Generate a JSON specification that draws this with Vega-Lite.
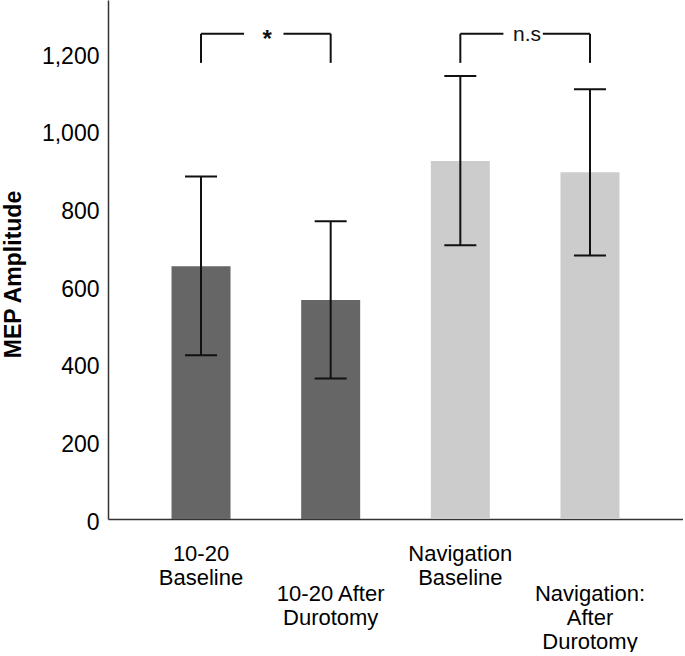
{
  "$schema": "https://vega.github.io/schema/vega-lite/v6.json",
  "width": 575,
  "height": 519,
  "padding": {"left": 2, "top": 0, "right": 0, "bottom": 0},
  "autosize": {"type": "pad"},
  "background": "white",
  "config": {"view": {"stroke": null}, "font": "Liberation Sans"},
  "datasets": {
    "bars": [
      {"condition": "10-20 Baseline", "method": "10-20", "mean": 651, "lo": 422, "hi": 882},
      {"condition": "10-20 After Durotomy", "method": "10-20", "mean": 564, "lo": 362, "hi": 767},
      {"condition": "Navigation Baseline", "method": "Navigation", "mean": 922, "lo": 705, "hi": 1141},
      {"condition": "Navigation: After Durotomy", "method": "Navigation", "mean": 893, "lo": 679, "hi": 1107}
    ],
    "brackets": [
      {"left": "10-20 Baseline", "right": "10-20 After Durotomy", "label": "*", "top": 1250, "bottom": 1175},
      {"left": "Navigation Baseline", "right": "Navigation: After Durotomy", "label": "n.s", "top": 1250, "bottom": 1175}
    ]
  },
  "encoding": {
    "y": {
      "type": "quantitative",
      "scale": {"domain": [0, 1337], "nice": false},
      "axis": {
        "title": "MEP Amplitude",
        "titleFontSize": 23,
        "titleFontWeight": "bold",
        "titleColor": "black",
        "titlePadding": 16,
        "titleY": 274,
        "values": [0, 200, 400, 600, 800, 1000, 1200],
        "format": ",d",
        "ticks": false,
        "grid": false,
        "labelFontSize": 23,
        "labelColor": "black",
        "labelPadding": 9,
        "labelOffset": 3,
        "domainColor": "#333333",
        "domainWidth": 1.5
      }
    }
  },
  "layer": [
    {
      "data": {"name": "bars"},
      "mark": {"type": "bar"},
      "encoding": {
        "x": {
          "field": "condition",
          "type": "nominal",
          "scale": {
            "domain": ["10-20 Baseline", "10-20 After Durotomy", "Navigation Baseline", "Navigation: After Durotomy"],
            "paddingInner": 0.545,
            "paddingOuter": 0.49
          },
          "axis": {
            "title": null,
            "labelAngle": 0,
            "labelOverlap": false,
            "labelLimit": 0,
            "labelFontSize": 22,
            "labelLineHeight": 24,
            "labelColor": "black",
            "labelPadding": {"condition": {"test": "datum.value == '10-20 After Durotomy' || datum.value == 'Navigation: After Durotomy'", "value": 64}, "value": 24},
            "labelExpr": "datum.value == '10-20 Baseline' ? ['10-20', 'Baseline'] : datum.value == '10-20 After Durotomy' ? ['10-20 After', 'Durotomy'] : datum.value == 'Navigation Baseline' ? ['Navigation', 'Baseline'] : ['Navigation:', 'After', 'Durotomy']",
            "ticks": false,
            "domainColor": "#333333",
            "domainWidth": 1.5
          }
        },
        "y": {"field": "mean"},
        "color": {
          "field": "method",
          "type": "nominal",
          "scale": {"domain": ["10-20", "Navigation"], "range": ["#666666", "#cccccc"]},
          "legend": null
        }
      }
    },
    {
      "data": {"name": "bars"},
      "mark": {"type": "rule", "strokeWidth": 2, "color": "#111111"},
      "encoding": {
        "x": {"field": "condition", "type": "nominal"},
        "y": {"field": "lo"},
        "y2": {"field": "hi"}
      }
    },
    {
      "data": {"name": "bars"},
      "mark": {"type": "tick", "size": 32, "thickness": 2, "color": "#111111", "opacity": 1},
      "encoding": {
        "x": {"field": "condition", "type": "nominal"},
        "y": {"field": "lo"}
      }
    },
    {
      "data": {"name": "bars"},
      "mark": {"type": "tick", "size": 32, "thickness": 2, "color": "#111111", "opacity": 1},
      "encoding": {
        "x": {"field": "condition", "type": "nominal"},
        "y": {"field": "hi"}
      }
    },
    {
      "data": {"name": "brackets"},
      "mark": {"type": "rule", "strokeWidth": 2, "color": "#111111"},
      "encoding": {
        "x": {"field": "left", "type": "nominal"},
        "y": {"field": "top"},
        "y2": {"field": "bottom"}
      }
    },
    {
      "data": {"name": "brackets"},
      "mark": {"type": "rule", "strokeWidth": 2, "color": "#111111"},
      "encoding": {
        "x": {"field": "right", "type": "nominal"},
        "y": {"field": "top"},
        "y2": {"field": "bottom"}
      }
    },
    {
      "data": {"name": "brackets"},
      "mark": {"type": "rule", "strokeWidth": 2, "color": "#111111"},
      "encoding": {
        "x": {"field": "left", "type": "nominal", "bandPosition": 0.5},
        "x2": {"field": "left", "bandPosition": 1.23},
        "y": {"field": "top"}
      }
    },
    {
      "data": {"name": "brackets"},
      "mark": {"type": "rule", "strokeWidth": 2, "color": "#111111"},
      "encoding": {
        "x": {"field": "right", "type": "nominal", "bandPosition": -0.3},
        "x2": {"field": "right", "bandPosition": 0.5},
        "y": {"field": "top"}
      }
    },
    {
      "data": {"name": "brackets"},
      "transform": [{"filter": "datum.label == '*'"}],
      "mark": {"type": "text", "fontSize": 24, "fontWeight": "bold", "baseline": "middle", "dy": 6, "color": "#111111"},
      "encoding": {
        "x": {"field": "left", "type": "nominal", "bandPosition": 1.62},
        "y": {"field": "top"},
        "text": {"field": "label"}
      }
    },
    {
      "data": {"name": "brackets"},
      "transform": [{"filter": "datum.label == 'n.s'"}],
      "mark": {"type": "text", "fontSize": 21, "baseline": "middle", "dy": 1, "color": "#111111"},
      "encoding": {
        "x": {"field": "left", "type": "nominal", "bandPosition": 1.63},
        "y": {"field": "top"},
        "text": {"field": "label"}
      }
    }
  ]
}
